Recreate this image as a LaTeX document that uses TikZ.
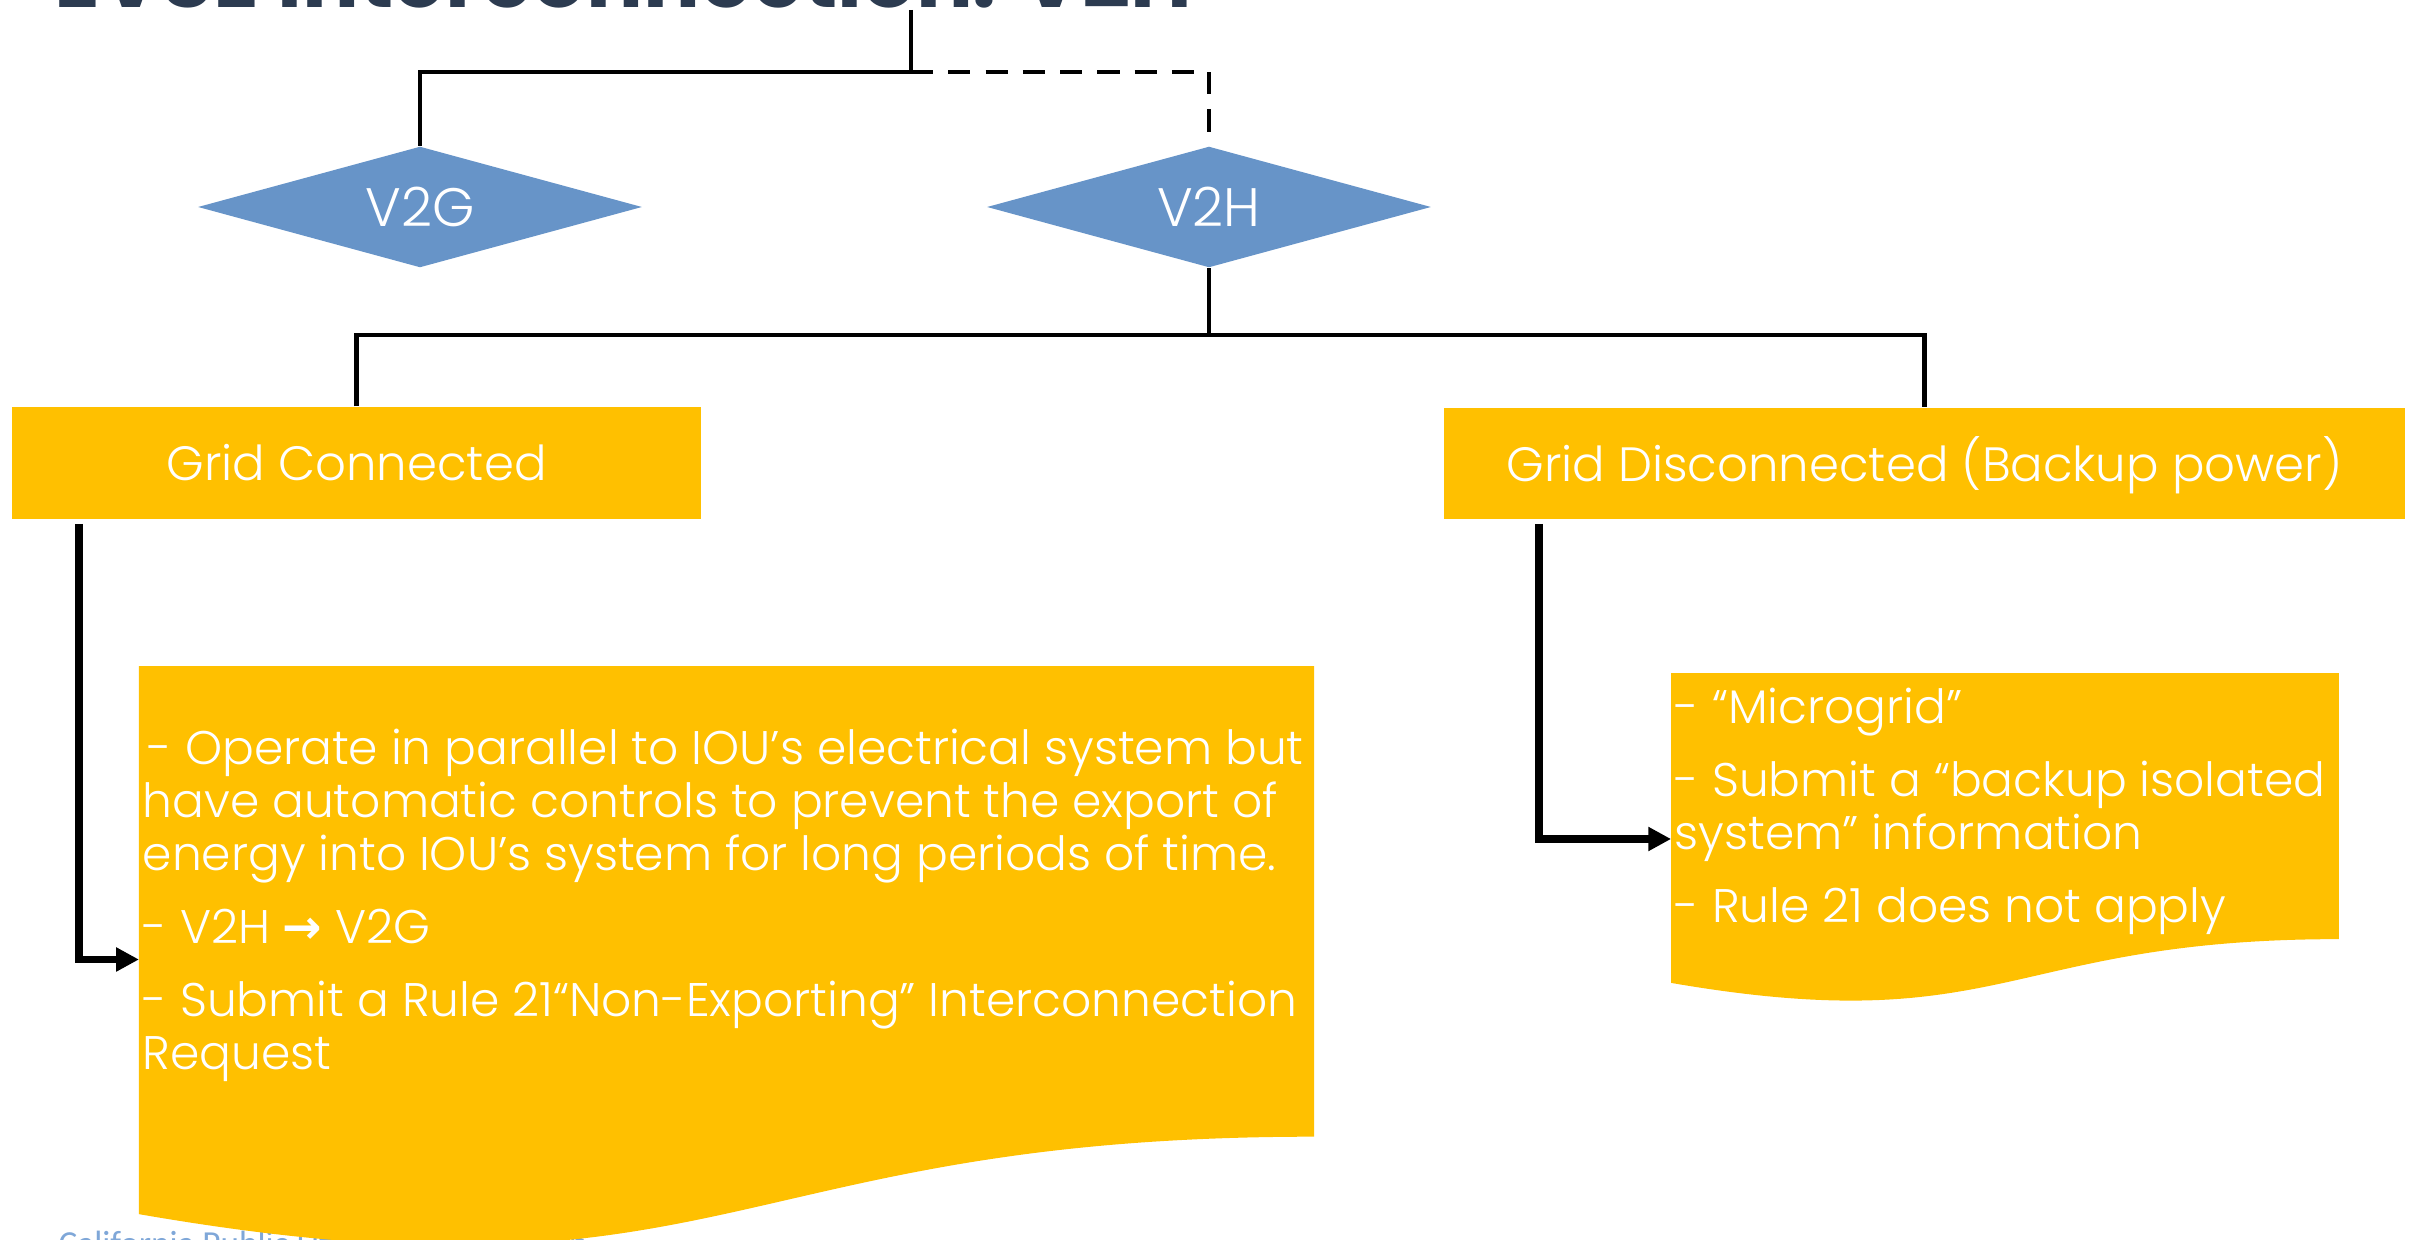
\documentclass[tikz,border=0pt]{standalone}
\usepackage{fontspec}
\usetikzlibrary{shapes.geometric,arrows.meta,calc}
\newfontfamily\lightfont{Poppins Light}
\newfontfamily\titlefont{Poppins}
\newfontfamily\footfont{Carlito}
\newfontfamily\arrowfont{DejaVu Sans}
\definecolor{gold}{HTML}{FFC000}
\definecolor{steel}{HTML}{6794C8}
\definecolor{slate}{HTML}{2C3B50}
\definecolor{footblue}{HTML}{7FA7D8}

% flowchart "document" outline filled inside the frame of node #1
\newcommand\docshape[1]{%
  \fill[gold] (#1.north west) -- (#1.north east)
    -- ($(#1.north east)!0.802!(#1.south east)$)
    .. controls ($(#1.north)!0.802!(#1.south)$) and ($(#1.north)!1.1075!(#1.south)$)
    .. ($(#1.north west)!0.934!(#1.south west)$) -- cycle;}

\begin{document}
\begin{tikzpicture}[x=0.01cm,y=-0.01cm,
  choice/.style={diamond, shape aspect=3.67, fill=steel, inner sep=0pt,
    minimum width=4.44cm, minimum height=1.21cm, text=white,
    font=\lightfont\fontsize{15.4}{18}\selectfont, text height=0.38cm, text depth=0cm},
  header/.style={rectangle, fill=gold, inner sep=0pt, text=white,
    font=\lightfont\fontsize{13.7}{16}\selectfont, text height=0.35cm, text depth=0cm},
  docarea/.style={rectangle, inner sep=0pt},
  doctext/.style={inner sep=0pt, align=left, text=white,
    font=\lightfont\fontsize{13.4}{15.1}\selectfont},
  tree/.style={line width=1.15pt},
  treedash/.style={tree, dash pattern=on 6.3pt off 4.3pt},
  elbow/.style={line width=2.2pt, -{Triangle[length=6.5pt,width=6.5pt]}}
]
\useasboundingbox (0,0) rectangle (2417,1240);
\clip (0,0) rectangle (2417,1240);

% heading, mostly above the frame
\node[anchor=base east, inner sep=0pt, text=slate,
  font=\titlefont\bfseries\fontsize{24}{28}\selectfont] (title) at (1193,8)
  {EVSE Interconnection: V2H};

% footer line, partly hidden by the left note
\node[anchor=base west, inner sep=0pt, text=footblue,
  font=\footfont\fontsize{10}{12}\selectfont] (footer) at (58,1255)
  {California Public Utilities Commission};

% note shapes
\node[docarea, minimum width=11.73cm, minimum height=5.85cm] (leftdoc) at (726.5,959.5) {};
\node[docarea, minimum width=6.66cm, minimum height=3.30cm] (rightdoc) at (2005,839) {};
\docshape{leftdoc}
\docshape{rightdoc}

% the base of a multi-line node is its last line
\node[doctext, anchor=base west] (lefttext) at (142,1070)
  {\hspace*{0.05cm}- Operate in parallel to IOU’s electrical system but\\
   have automatic controls to prevent the export of\\
   energy into IOU’s system for long periods of time.\\[5.7pt]
   - V2H {\arrowfont\bfseries →} V2G\\[5.7pt]
   - Submit a Rule 21“Non-Exporting” Interconnection\\
   Request};

\node[doctext, anchor=base west] (righttext) at (1674,923)
  {- “Microgrid”\\[5.7pt]
   - Submit a “backup isolated\\
   system” information\\[5.7pt]
   - Rule 21 does not apply};

% decisions and branches
\node[choice] (v2g) at (420,207) {V2G};
\node[choice] (v2h) at (1209,207) {V2H};
\node[header, minimum width=6.89cm, minimum height=1.12cm] (conn) at (356.5,463) {Grid Connected};
\node[header, minimum width=9.61cm, minimum height=1.11cm] (disc) at (1924.5,463.5) {Grid Disconnected (Backup power)};

% connectors
\coordinate (titlefoot) at (911,10);
\coordinate (topjoin) at (911,72);
\coordinate (midjoin) at (1209,335);
\coordinate (connfoot) at (79,524);
\coordinate (discfoot) at (1539,524);

\draw[tree] (titlefoot) -- (topjoin) -| (v2g.north);
\draw[treedash] (topjoin) -| (v2h.north);
\draw[tree] (v2h.south) -- (midjoin);
\draw[tree] (conn.north) |- (midjoin) -| (disc.north);

\draw[elbow] (connfoot) |- (leftdoc.west);
\draw[elbow] (discfoot) |- (rightdoc.west);
\end{tikzpicture}
\end{document}
